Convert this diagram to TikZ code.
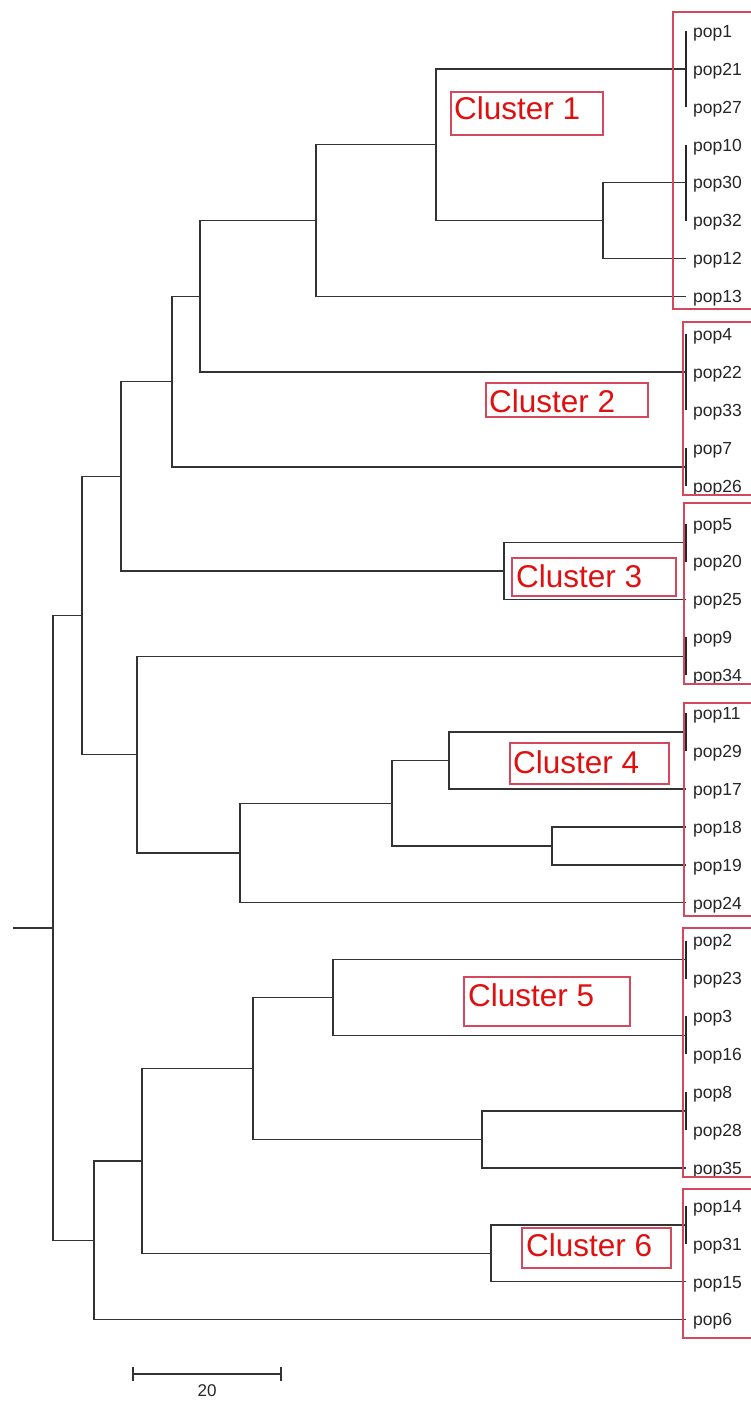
\documentclass[tikz,border=0pt]{standalone}
\usepackage{fontspec}
\setmainfont{Liberation Sans}
\definecolor{treegray}{HTML}{333333}
\definecolor{boxred}{HTML}{D4485E}
\definecolor{txtred}{HTML}{E01010}
\begin{document}
\begin{tikzpicture}[x=1pt,y=-1pt,
  br/.style={draw=treegray, line width=1.4pt},
  tie/.style={draw=black!85, line width=2.2pt},
  leaflab/.style={anchor=base west, inner sep=0pt, font=\fontsize{17.5}{18}\selectfont, text=black!85},
  cbox/.style={draw=boxred, line width=1.3pt},
  clab/.style={anchor=base west, inner sep=0pt, font=\fontsize{31.5}{33}\selectfont, text=txtred},
  scalelab/.style={inner sep=0pt, font=\fontsize{17}{18}\selectfont, text=black!85}
]
\useasboundingbox (0,0) rectangle (751,1402);
\fill[white] (0,0) rectangle (751,1402);

% leaves and their labels
\foreach \n [count=\i from 0] in {pop1,pop21,pop27,pop10,pop30,pop32,pop12,pop13,pop4,pop22,pop33,pop7,pop26,pop5,pop20,pop25,pop9,pop34,pop11,pop29,pop17,pop18,pop19,pop24,pop2,pop23,pop3,pop16,pop8,pop28,pop35,pop14,pop31,pop15,pop6} {
  \coordinate (\n) at (686,{31+37.9*\i});
  \node[leaflab] (lab-\n) at (693,{37.3+37.9*\i}) {\n};
}

% zero-length ties
\coordinate (T1) at (686,68.9);
\coordinate (T2) at (686,182.6);
\coordinate (T3) at (686,372.1);
\coordinate (T4) at (686,466.85);
\coordinate (T5) at (686,542.65);
\coordinate (T6) at (686,656.35);
\coordinate (T7) at (686,732.15);
\coordinate (T8) at (686,959.55);
\coordinate (T9) at (686,1035.35);
\coordinate (T10) at (686,1111.15);
\coordinate (T11) at (686,1224.85);
\draw[tie] (pop1) -- (pop27);
\draw[tie] (pop10) -- (pop32);
\draw[tie] (pop4) -- (pop33);
\draw[tie] (pop7) -- (pop26);
\draw[tie] (pop5) -- (pop20);
\draw[tie] (pop9) -- (pop34);
\draw[tie] (pop11) -- (pop29);
\draw[tie] (pop2) -- (pop23);
\draw[tie] (pop3) -- (pop16);
\draw[tie] (pop8) -- (pop28);
\draw[tie] (pop14) -- (pop31);

% internal nodes
\coordinate (G) at (603,220.5);
\coordinate (F) at (436,144.7);
\coordinate (E) at (316,220.5);
\coordinate (D) at (200,296.3);
\coordinate (C) at (172,381.575);
\coordinate (H) at (504,571.075);
\coordinate (B) at (121,476.325);
\coordinate (L) at (449,760.575);
\coordinate (M) at (552,845.85);
\coordinate (K) at (392,803.21);
\coordinate (J) at (240,852.96);
\coordinate (I) at (137,754.66);
\coordinate (A) at (82,615.49);
\coordinate (Q) at (333,997.45);
\coordinate (R) at (482,1139.575);
\coordinate (P) at (253,1068.51);
\coordinate (S) at (491,1253.275);
\coordinate (O) at (142,1160.89);
\coordinate (N) at (94,1240.25);
\coordinate (root) at (53,927.87);
\coordinate (stub) at (13,927.87);

\draw[br] (stub) -- (root);
\draw[br] (root) |- (A);  \draw[br] (root) |- (N);
\draw[br] (A) |- (B);     \draw[br] (A) |- (I);
\draw[br] (B) |- (C);     \draw[br] (B) |- (H);
\draw[br] (C) |- (D);     \draw[br] (C) |- (T4);
\draw[br] (D) |- (E);     \draw[br] (D) |- (T3);
\draw[br] (E) |- (F);     \draw[br] (E) |- (pop13);
\draw[br] (F) |- (T1);    \draw[br] (F) |- (G);
\draw[br] (G) |- (T2);    \draw[br] (G) |- (pop12);
\draw[br] (H) |- (T5);    \draw[br] (H) |- (pop25);
\draw[br] (I) |- (T6);    \draw[br] (I) |- (J);
\draw[br] (J) |- (K);     \draw[br] (J) |- (pop24);
\draw[br] (K) |- (L);     \draw[br] (K) |- (M);
\draw[br] (L) |- (T7);    \draw[br] (L) |- (pop17);
\draw[br] (M) |- (pop18); \draw[br] (M) |- (pop19);
\draw[br] (N) |- (O);     \draw[br] (N) |- (pop6);
\draw[br] (O) |- (P);     \draw[br] (O) |- (S);
\draw[br] (P) |- (Q);     \draw[br] (P) |- (R);
\draw[br] (Q) |- (T8);    \draw[br] (Q) |- (T9);
\draw[br] (R) |- (T10);   \draw[br] (R) |- (pop35);
\draw[br] (S) |- (T11);   \draw[br] (S) |- (pop15);

% leaf group boxes (open at right page edge)
\draw[cbox] (755,12) -| (673,309) -- (755,309);
\draw[cbox] (755,322) -| (683,495) -- (755,495);
\draw[cbox] (755,503) -| (684,684) -- (755,684);
\draw[cbox] (755,703) -| (684,916) -- (755,916);
\draw[cbox] (755,928) -| (683,1177) -- (755,1177);
\draw[cbox] (755,1189) -| (683,1338) -- (755,1338);

% cluster labels
\draw[cbox] (451,92) rectangle (603,135);
\node[clab] (c1) at (454,120) {Cluster 1};
\draw[cbox] (486,383) rectangle (648,417);
\node[clab] (c2) at (489,412) {Cluster 2};
\draw[cbox] (512,558) rectangle (676,596);
\node[clab] (c3) at (516,587) {Cluster 3};
\draw[cbox] (510,743) rectangle (669,784);
\node[clab] (c4) at (513,773) {Cluster 4};
\draw[cbox] (464,977) rectangle (630,1026);
\node[clab] (c5) at (468,1006) {Cluster 5};
\draw[cbox] (522,1228) rectangle (671,1268);
\node[clab] (c6) at (526,1256) {Cluster 6};

% scale bar
\coordinate (sbL) at (133,1374);
\coordinate (sbR) at (281,1374);
\draw[br] (sbL) -- (sbR);
\draw[br] ([yshift=-7pt]sbL) -- ([yshift=7pt]sbL);
\draw[br] ([yshift=-7pt]sbR) -- ([yshift=7pt]sbR);
\node[scalelab] (sblab) at (207,1391) {20};
\end{tikzpicture}
\end{document}
